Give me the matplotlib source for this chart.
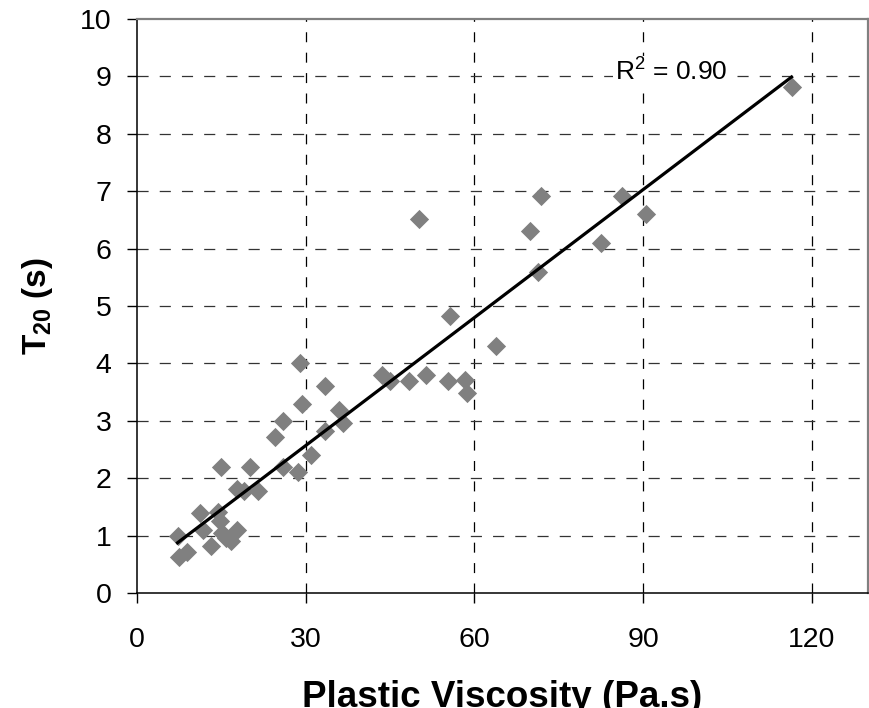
import numpy as np
import matplotlib
matplotlib.use("Agg")
import matplotlib.pyplot as plt

plt.rcParams['font.family'] = ['Liberation Sans', 'DejaVu Sans']
plt.rcParams['mathtext.fontset'] = 'custom'
plt.rcParams['mathtext.rm'] = 'Liberation Sans'
plt.rcParams['mathtext.it'] = 'Liberation Sans:italic'
plt.rcParams['mathtext.bf'] = 'Liberation Sans:bold'
plt.rcParams['lines.scale_dashes'] = False

# plastic viscosity (Pa.s) vs T20 (s)
visc = [7.2, 7.5, 8.9, 11.2, 11.8, 13.2, 14.4, 14.8, 15.2, 15.8, 16.8, 17.8,
        14.9, 20.1, 17.8, 19.0, 21.5,
        28.9, 33.5, 29.3, 36.0, 25.9, 24.5, 36.6, 33.4, 31.0, 26.0, 28.6,
        43.5, 45.0, 48.3, 51.4, 55.3, 58.4, 58.6, 50.1, 55.6, 63.9,
        71.8, 69.8, 86.3, 90.5, 82.5, 71.4, 116.4]
t20 = [1.0, 0.62, 0.72, 1.39, 1.1, 0.82, 1.42, 1.25, 1.05, 0.95, 0.9, 1.1,
       2.2, 2.2, 1.82, 1.78, 1.77,
       4.0, 3.6, 3.29, 3.19, 2.99, 2.71, 2.97, 2.82, 2.4, 2.2, 2.1,
       3.8, 3.7, 3.69, 3.8, 3.69, 3.71, 3.49, 6.51, 4.82, 4.31,
       6.92, 6.31, 6.92, 6.61, 6.1, 5.59, 8.81]

# linear trend line (as shown on the chart)
slope = 0.0743
intercept = 0.34
r2_text = 'R$^2$ = 0.90'

xticks = [0, 30, 60, 90, 120]
yticks = list(range(0, 11))

fig = plt.figure(figsize=(8.7, 7.08), dpi=100)
ax = fig.add_axes([0.1575, 0.1624, 0.8402, 0.8108])

ax.scatter(visc, t20, marker='D', s=9.8**2, color='#808080', linewidths=0, zorder=3)

xl = np.array([min(visc), max(visc)])
ax.plot(xl, slope * xl + intercept, color='black', lw=2.3, zorder=4)

ax.text(85.0, 8.93, r2_text, fontsize=19, ha='left', va='baseline', zorder=5,
        bbox=dict(facecolor='white', edgecolor='none', pad=1.5))

ax.set_xlim(0, 130)
ax.set_ylim(0, 10)
ax.set_xticks(xticks)
ax.set_yticks(yticks)

# dashed grid
for v in xticks[1:]:
    ax.axvline(v, color='black', lw=0.9, ls=(0, (7.2, 7.5)), zorder=1)
for v in yticks[1:-1]:
    ax.axhline(v, color='#333333', lw=0.9, ls=(0, (8, 8)), zorder=1)

ax.tick_params(axis='both', direction='out', length=7.2, width=1, labelsize=20.5)
ax.tick_params(axis='x', pad=17)
ax.tick_params(axis='y', pad=11)

for s in ['left', 'bottom']:
    ax.spines[s].set_color('black')
    ax.spines[s].set_linewidth(1.1)
for s in ['top', 'right']:
    ax.spines[s].set_color('#808080')
    ax.spines[s].set_linewidth(1.6)

ax.set_xlabel('Plastic Viscosity (Pa.s)', fontsize=26.5, fontweight='bold', labelpad=20)
ax.set_ylabel(r'$\mathbf{T_{20}}$ (s)', fontsize=24, fontweight='bold', labelpad=18)

fig.savefig('out.png', dpi=100)
